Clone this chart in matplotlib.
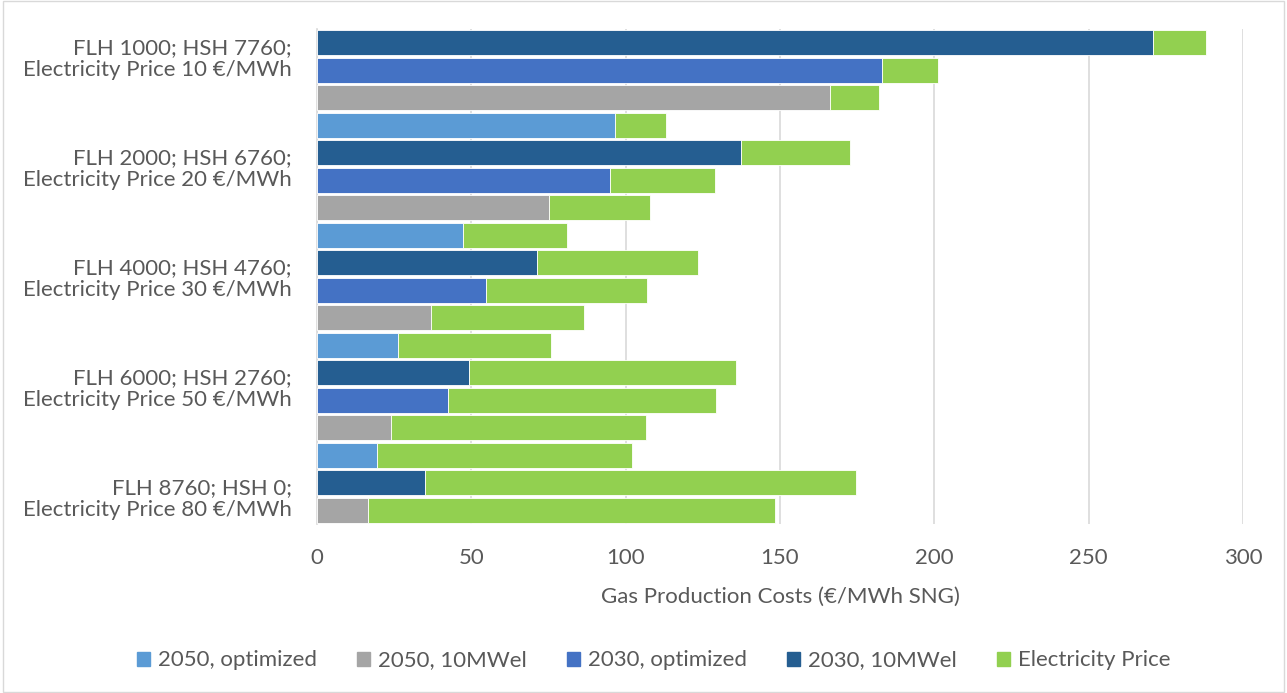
import matplotlib
matplotlib.use("Agg")
import matplotlib.pyplot as plt
from matplotlib.patches import Patch, Rectangle

plt.rcParams['font.family'] = ['Lato', 'DejaVu Sans']

# scenario labels (one per group of bars)
groups = [
    "FLH 1000; HSH 7760;\nElectricity Price 10 €/MWh",
    "FLH 2000; HSH 6760;\nElectricity Price 20 €/MWh",
    "FLH 4000; HSH 4760;\nElectricity Price 30 €/MWh",
    "FLH 6000; HSH 2760;\nElectricity Price 50 €/MWh",
    "FLH 8760; HSH 0;\nElectricity Price 80 €/MWh",
]

# one entry per bar, top to bottom
row_group = [0, 0, 0, 0, 1, 1, 1, 1, 2, 2, 2, 2, 3, 3, 3, 3, 4, 4]
row_series = [
    "2030, 10MWel", "2030, optimized", "2050, 10MWel", "2050, optimized",
    "2030, 10MWel", "2030, optimized", "2050, 10MWel", "2050, optimized",
    "2030, 10MWel", "2030, optimized", "2050, 10MWel", "2050, optimized",
    "2030, 10MWel", "2030, optimized", "2050, 10MWel", "2050, optimized",
    "2030, 10MWel", "2050, 10MWel",
]
row_cost = [270.7, 183.2, 166.1, 96.4,
            137.4, 94.8, 75.2, 47.3,
            71.3, 54.7, 37.0, 26.3,
            49.1, 42.4, 24.1, 19.5,
            35.1, 16.4]
row_electricity = [17.4, 17.9, 16.1, 16.6,
                   35.4, 34.3, 32.8, 33.6,
                   52.3, 52.3, 49.4, 49.6,
                   86.6, 86.8, 82.4, 82.5,
                   139.4, 131.9]

series_order = ["2050, optimized", "2050, 10MWel", "2030, optimized", "2030, 10MWel"]
colors = {
    "2050, optimized": "#5B9BD5",
    "2050, 10MWel": "#A5A5A5",
    "2030, optimized": "#4472C4",
    "2030, 10MWel": "#255E91",
    "Electricity Price": "#92D050",
}
text_color = "#595959"
fs = 16

fig = plt.figure(figsize=(12.87, 6.93), dpi=100)
ax = fig.add_axes([0.2463, 0.2439, 0.7195, 0.7143])

rows = list(range(len(row_cost)))
ax.barh(rows, row_cost, height=0.9, color=[colors[s] for s in row_series],
        edgecolor="white", linewidth=0.6, zorder=3)
ax.barh(rows, row_electricity, left=row_cost, height=0.9,
        color=colors["Electricity Price"], edgecolor="white", linewidth=0.6, zorder=3)

ax.set_ylim(len(rows) - 0.5, -0.5)
ax.set_xlim(0, 300)
ax.set_xticks(range(0, 301, 50))

# group label sits between the first two bars of each group
first_rows = [row_group.index(g) for g in range(len(groups))]
ax.set_yticks([r + 0.5 for r in first_rows])
ax.set_yticklabels(groups, ha="right", fontsize=fs, color=text_color, linespacing=1.12)
ax.tick_params(axis="y", length=0, pad=18)
ax.tick_params(axis="x", length=0, pad=17, labelsize=fs, labelcolor=text_color)

ax.grid(axis="x", color="#D9D9D9", linewidth=1.2, zorder=0)
for side in ["top", "right", "bottom"]:
    ax.spines[side].set_visible(False)
ax.spines["left"].set_color("#D9D9D9")
ax.spines["left"].set_linewidth(1.2)

ax.set_xlabel("Gas Production Costs (€/MWh SNG)", fontsize=fs, color=text_color, labelpad=14)

handles = [Patch(color=colors[s]) for s in series_order + ["Electricity Price"]]
fig.legend(handles, series_order + ["Electricity Price"], loc="center",
           bbox_to_anchor=(0.508, 0.047), ncol=5, frameon=False, fontsize=fs,
           handlelength=0.6, handleheight=0.6, handletextpad=0.35, columnspacing=1.8,
           labelcolor=text_color)

fig.patches.append(Rectangle((0.002, 0.002), 0.996, 0.996, transform=fig.transFigure,
                             fill=False, edgecolor="#D9D9D9", linewidth=1))

fig.savefig("out.png", dpi=100)
